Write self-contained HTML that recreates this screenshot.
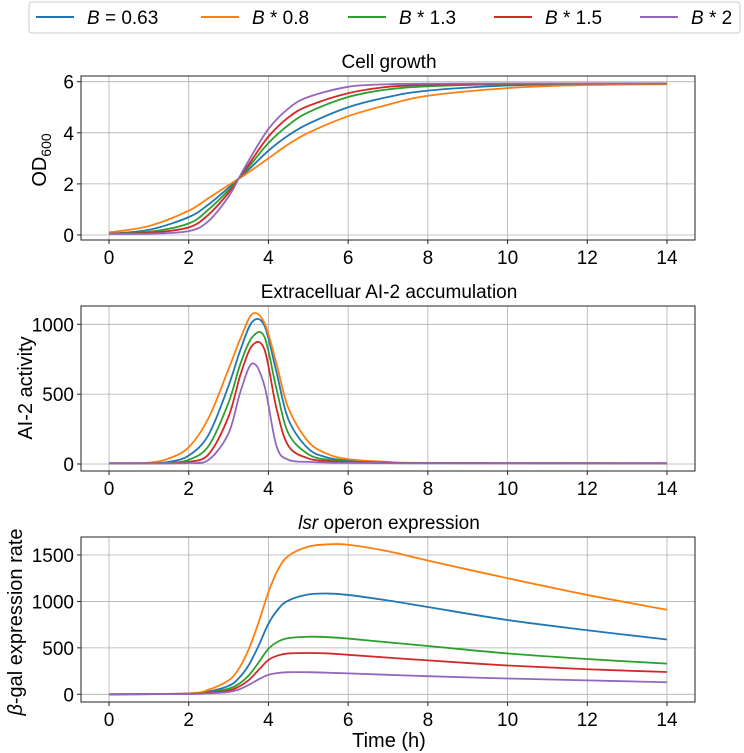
<!DOCTYPE html>
<html><head><meta charset="utf-8"><style>
html,body{margin:0;padding:0;background:#fff;}
svg{display:block;font-family:"Liberation Sans","DejaVu Sans",sans-serif;}
</style></head><body>
<svg id="chart" width="744" height="753" viewBox="0 0 744 753"></svg>
<script>
const seriesNames=["B = 0.63","B * 0.8","B * 1.3","B * 1.5","B * 2"];
const colors=["#1f77b4","#ff7f0e","#2ca02c","#d62728","#9467bd"];
const xTicks=[0,2,4,6,8,10,12,14];
// Panel 1: OD600
const t1=[0,1,2,2.5,3,3.25,3.5,4,4.5,5,6,7,8,10,12,14];
const od_blue=[0.05,0.2,0.7,1.2,1.85,2.2,2.55,3.3,3.9,4.35,5.0,5.4,5.65,5.85,5.9,5.93];
const od_orange=[0.1,0.35,0.95,1.45,1.95,2.2,2.45,3.0,3.55,4.0,4.65,5.1,5.45,5.75,5.87,5.9];
const od_green=[0.05,0.12,0.45,1.0,1.75,2.2,2.65,3.6,4.3,4.8,5.4,5.7,5.82,5.9,5.92,5.93];
const od_red=[0.05,0.08,0.3,0.8,1.65,2.2,2.75,3.85,4.6,5.05,5.55,5.8,5.88,5.92,5.93,5.93];
const od_purple=[0.05,0.05,0.15,0.55,1.5,2.2,2.9,4.15,4.95,5.4,5.8,5.9,5.92,5.93,5.93,5.93];
const yTicks1=[0,2,4,6];
// Panel 2: AI-2
const t2=[0,1,1.5,2,2.5,3,3.3,3.6,3.9,4.2,4.5,5,5.5,6,7,8,14];
const ai_blue=[5,5,15,60,210,560,820,1020,990,660,320,110,45,25,12,7,5];
const ai_orange=[5,10,40,120,330,680,900,1075,1010,720,400,160,70,35,15,8,5];
const ai_green=[5,5,8,30,130,440,720,910,910,540,220,70,30,18,10,7,5];
const ai_red=[5,5,5,15,70,340,640,850,820,400,130,40,20,13,9,6,5];
const ai_purple=[5,5,5,7,30,220,520,720,560,130,30,15,10,8,6,5,5];
const yTicks2=[0,500,1000];
// Panel 3: beta-gal
const t3=[0,2,2.5,3,3.25,3.5,3.75,4,4.25,4.5,5,5.5,6,7,8,10,12,14];
const bg_blue=[0,8,30,90,170,310,520,760,920,1010,1075,1085,1070,1010,940,800,690,590];
const bg_orange=[0,10,50,150,270,480,770,1100,1350,1490,1590,1615,1610,1540,1440,1250,1070,910];
const bg_green=[0,5,20,60,110,200,340,490,570,605,620,615,600,560,520,440,380,330];
const bg_red=[0,5,15,40,80,150,260,370,420,440,445,440,425,395,365,310,270,240];
const bg_purple=[0,3,10,25,50,100,160,210,230,238,238,232,225,210,195,170,150,130];
const yTicks3=[0,500,1000,1500];

const NS="http://www.w3.org/2000/svg";
const svg=document.getElementById("chart");
function el(tag,attrs,parent){const e=document.createElementNS(NS,tag);for(const k in attrs)e.setAttribute(k,attrs[k]);(parent||svg).appendChild(e);return e;}
const X0=109,X1=667;
function xs(t){return X0+(X1-X0)*t/14;}

function panel(name,box,yv0,yp0,yv1,yp1,yTicks,t,series,title,ylabel,ylabelX,ylabelY){
  const g=el("g",{});
  
  
  const ys=v=>yp0+(yp1-yp0)*(v-yv0)/(yv1-yv0);
  xTicks.forEach(v=>{el("line",{x1:xs(v),x2:xs(v),y1:box.top,y2:box.bottom,stroke:"#b0b0b0","stroke-width":0.8},g);});
  yTicks.forEach(v=>{el("line",{x1:box.left,x2:box.right,y1:ys(v),y2:ys(v),stroke:"#b0b0b0","stroke-width":0.8},g);});
  series.forEach((d,i)=>{
    const pts=t.map((tt,j)=>[xs(tt),ys(d[j])]);
    let p="M"+pts[0][0]+","+pts[0][1];
    for(let j=0;j<pts.length-1;j++){
      const p0=pts[Math.max(0,j-1)],p1=pts[j],p2=pts[j+1],p3=pts[Math.min(pts.length-1,j+2)];
      const c1=[p1[0]+(p2[0]-p0[0])/6,p1[1]+(p2[1]-p0[1])/6];
      const c2=[p2[0]-(p3[0]-p1[0])/6,p2[1]-(p3[1]-p1[1])/6];
      p+=" C"+c1[0]+","+c1[1]+" "+c2[0]+","+c2[1]+" "+p2[0]+","+p2[1];
    }
    const path=el("path",{d:p,fill:"none",stroke:colors[i],"stroke-width":1.8},g);
    
    
  });
  el("rect",{x:box.left,y:box.top,width:box.right-box.left,height:box.bottom-box.top,fill:"none",stroke:"#222","stroke-width":1},g);
  xTicks.forEach(v=>{
    el("line",{x1:xs(v),x2:xs(v),y1:box.bottom,y2:box.bottom+4,stroke:"#222"},g);
    const tx=el("text",{x:xs(v),y:box.bottom+24,"text-anchor":"middle","font-size":19},g);tx.textContent=v;
  });
  yTicks.forEach(v=>{
    el("line",{x1:box.left-4,x2:box.left,y1:ys(v),y2:ys(v),stroke:"#222"},g);
    const tx=el("text",{x:box.left-7,y:ys(v)+7,"text-anchor":"end","font-size":19},g);tx.textContent=v;
  });
  const tt=el("text",{x:389,y:box.top-8,"text-anchor":"middle","font-size":19},g);
  tt.innerHTML=title;
  
  
  const yl=el("text",{x:0,y:0,"text-anchor":"middle","font-size":20,transform:"translate("+ylabelX+","+ylabelY+") rotate(-90)"},g);
  yl.innerHTML=ylabel;
  
  
}
panel("cell-growth-panel",{left:81,right:695,top:76,bottom:240},0,235,6,81.7,yTicks1,t1,[od_blue,od_orange,od_green,od_red,od_purple],"Cell growth",'OD<tspan font-size="14" dy="5">600</tspan>',46,160);
panel("ai2-panel",{left:81,right:695,top:306,bottom:471},0,464,1000,324.3,yTicks2,t2,[ai_blue,ai_orange,ai_green,ai_red,ai_purple],"Extracelluar AI-2 accumulation","AI-2 activity",32,388);
panel("lsr-panel",{left:81,right:695,top:537,bottom:702},0,694.3,1500,555,yTicks3,t3,[bg_blue,bg_orange,bg_green,bg_red,bg_purple],'<tspan font-style="italic">lsr</tspan> operon expression','<tspan font-style="italic">β</tspan>-gal expression rate',22,622);
const xl=el("text",{x:389,y:747,"text-anchor":"middle","font-size":20});
xl.textContent="Time (h)";


const lg=el("g",{});


el("rect",{x:29,y:2,width:711,height:31,rx:3,fill:"#fff",stroke:"#ccc"},lg);
const lx=[36,201,348,494,640];
const labels=['<tspan font-style="italic">B</tspan> = 0.63','<tspan font-style="italic">B</tspan> * 0.8','<tspan font-style="italic">B</tspan> * 1.3','<tspan font-style="italic">B</tspan> * 1.5','<tspan font-style="italic">B</tspan> * 2'];
seriesNames.forEach((n,i)=>{
  const e=el("g",{},lg);
  
  
  el("line",{x1:lx[i],x2:lx[i]+38,y1:17,y2:17,stroke:colors[i],"stroke-width":2},e);
  const tx=el("text",{x:lx[i]+51,y:24,"font-size":19},e);
  tx.innerHTML=labels[i];
});
</script>
</body></html>
